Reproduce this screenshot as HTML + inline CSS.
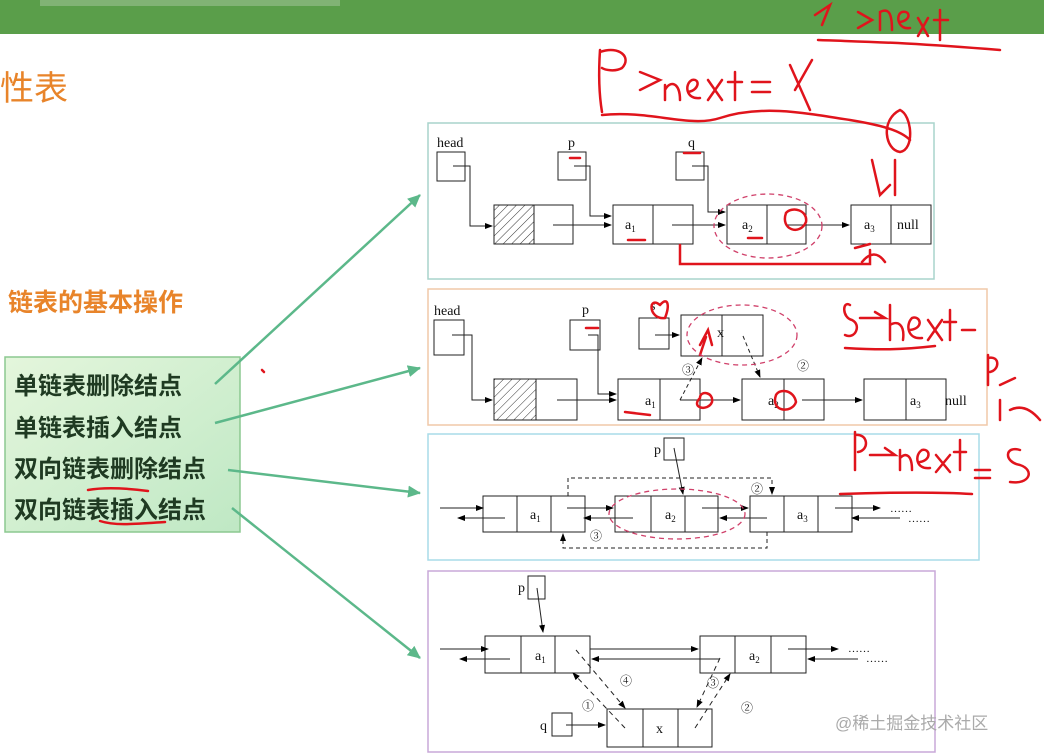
<!DOCTYPE html>
<html><head><meta charset="utf-8"><style>
body{margin:0;background:#fff;width:1044px;height:756px;overflow:hidden}
svg{display:block}
text{font-family:"Liberation Serif","Noto Serif CJK SC",serif}
.c{font-family:"Liberation Sans","Noto Sans CJK SC",sans-serif}
</style></head><body>
<svg width="1044" height="756" viewBox="0 0 1044 756" xmlns="http://www.w3.org/2000/svg">
<defs>
<marker id="a" markerWidth="8" markerHeight="8" refX="7" refY="4" orient="auto" markerUnits="userSpaceOnUse"><path d="M0,1 L8,4 L0,7z" fill="#000"/></marker>
<marker id="g" markerWidth="14" markerHeight="12" refX="12" refY="6" orient="auto" markerUnits="userSpaceOnUse"><path d="M0,0 L13,6 L0,12z" fill="#5cb88a"/></marker>
<pattern id="h" width="6" height="6" patternUnits="userSpaceOnUse" patternTransform="rotate(45)"><line x1="0" y1="0" x2="0" y2="6" stroke="#333" stroke-width="1"/></pattern>
<linearGradient id="lg" x1="0" y1="0" x2="1" y2="1"><stop offset="0" stop-color="#e4f6dc"/><stop offset="1" stop-color="#bfe8c4"/></linearGradient>
</defs>
<rect x="0" y="0" width="1044" height="34" fill="#5a9e4a"/>
<rect x="40" y="0" width="300" height="6" fill="#a8c8a0" opacity="0.5"/>
<text x="0" y="100" class="c" font-size="34" fill="#e8842a">性表</text>
<text x="8" y="311" class="c" font-size="25" fill="#e8842a" font-weight="bold">链表的基本操作</text>
<rect x="5" y="357" width="235" height="175" fill="url(#lg)" stroke="#8cc890" stroke-width="1.5"/>
<g class="c" font-size="24" font-weight="bold" fill="#1f3a22">
<text x="14" y="394" class="c">单链表删除结点</text>
<text x="14" y="436" class="c">单链表插入结点</text>
<text x="14" y="477" class="c">双向链表删除结点</text>
<text x="14" y="518" class="c">双向链表插入结点</text>
</g>
<g stroke="#5cb88a" stroke-width="2.5" fill="none" marker-end="url(#g)">
<line x1="215" y1="384" x2="420" y2="195"/>
<line x1="215" y1="423" x2="420" y2="368"/>
<line x1="228" y1="470" x2="420" y2="493"/>
<line x1="232" y1="508" x2="420" y2="658"/>
</g>
<rect x="428" y="123" width="506" height="156" fill="none" stroke="#a8d4cc" stroke-width="1.5"/>
<rect x="428" y="289" width="559" height="136" fill="none" stroke="#f0c8a8" stroke-width="1.5"/>
<rect x="428" y="434" width="551" height="126" fill="none" stroke="#a8dce8" stroke-width="1.5"/>
<rect x="428" y="571" width="507" height="181" fill="none" stroke="#c8a8d8" stroke-width="1.5"/>
<g stroke="#222" stroke-width="1" fill="none" font-size="13">
<rect x="437" y="152" width="28" height="29"/><rect x="558" y="152" width="28" height="28"/><rect x="676" y="152" width="28" height="28"/>
<rect x="494" y="205" width="40" height="39" fill="url(#h)"/><rect x="534" y="205" width="39" height="39"/>
<rect x="613" y="205" width="40" height="39"/><rect x="653" y="205" width="40" height="39"/>
<rect x="727" y="205" width="40" height="39"/><rect x="767" y="205" width="39" height="39"/>
<rect x="851" y="205" width="40" height="39"/><rect x="891" y="205" width="40" height="39"/>
<path d="M453,166 H470 V226 H492" marker-end="url(#a)"/>
<path d="M574,166 H590 V216 H611" marker-end="url(#a)"/>
<path d="M692,166 H708 V212 H725" marker-end="url(#a)"/>
<path d="M553,225 H611" marker-end="url(#a)"/><path d="M672,225 H725" marker-end="url(#a)"/><path d="M786,225 H849" marker-end="url(#a)"/>
<rect x="434" y="320" width="30" height="35"/><rect x="570" y="320" width="30" height="30"/><rect x="639" y="318" width="30" height="31"/>
<rect x="681" y="315" width="41" height="41"/><rect x="722" y="315" width="41" height="41"/>
<rect x="494" y="379" width="42" height="41" fill="url(#h)"/><rect x="536" y="379" width="41" height="41"/>
<rect x="618" y="379" width="42" height="41"/><rect x="660" y="379" width="40" height="41"/>
<rect x="742" y="379" width="42" height="41"/><rect x="784" y="379" width="40" height="41"/>
<rect x="864" y="379" width="42" height="41"/><rect x="906" y="379" width="40" height="41"/>
<path d="M452,335 H472 V400 H492" marker-end="url(#a)"/>
<path d="M588,335 H598 V394 H616" marker-end="url(#a)"/>
<path d="M655,335 H679" marker-end="url(#a)"/>
<path d="M557,400 H616" marker-end="url(#a)"/><path d="M680,400 H740" marker-end="url(#a)"/><path d="M802,400 H862" marker-end="url(#a)"/>
<path d="M680,400 L702,358" stroke-dasharray="4,3" marker-end="url(#a)"/>
<path d="M743,336 L760,377" stroke-dasharray="4,3" marker-end="url(#a)"/>
<rect x="664" y="438" width="20" height="22"/>
<rect x="483" y="496" width="34" height="36"/><rect x="517" y="496" width="34" height="36"/><rect x="551" y="496" width="34" height="36"/>
<rect x="615" y="496" width="36" height="36"/><rect x="651" y="496" width="34" height="36"/><rect x="685" y="496" width="33" height="36"/>
<rect x="750" y="496" width="34" height="36"/><rect x="784" y="496" width="34" height="36"/><rect x="818" y="496" width="34" height="36"/>
<path d="M674,448 L683,494" marker-end="url(#a)"/>
<path d="M440,508 H483" marker-end="url(#a)"/><path d="M505,518 H458" marker-end="url(#a)"/>
<path d="M567,508 H613" marker-end="url(#a)"/><path d="M633,518 H584" marker-end="url(#a)"/>
<path d="M702,508 H748" marker-end="url(#a)"/><path d="M767,518 H720" marker-end="url(#a)"/>
<path d="M835,508 H880" marker-end="url(#a)"/><path d="M900,518 H852" marker-end="url(#a)"/>
<path d="M568,496 V478 H772 V494" stroke-dasharray="4,3" marker-end="url(#a)"/>
<path d="M767,532 V548 H563 V534" stroke-dasharray="4,3" marker-end="url(#a)"/>
<rect x="528" y="576" width="17" height="23"/><rect x="552" y="713" width="20" height="23"/>
<rect x="485" y="636" width="36" height="37"/><rect x="521" y="636" width="34" height="37"/><rect x="555" y="636" width="35" height="37"/>
<rect x="700" y="636" width="35" height="37"/><rect x="735" y="636" width="36" height="37"/><rect x="771" y="636" width="35" height="37"/>
<rect x="607" y="709" width="36" height="38"/><rect x="643" y="709" width="35" height="38"/><rect x="678" y="709" width="34" height="38"/>
<path d="M537,588 L543,632" marker-end="url(#a)"/>
<path d="M566,725 H605" marker-end="url(#a)"/>
<path d="M440,649 H488" marker-end="url(#a)"/><path d="M510,659 H460" marker-end="url(#a)"/>
<path d="M590,649 H698" marker-end="url(#a)"/><path d="M720,659 H592" marker-end="url(#a)"/>
<path d="M788,649 H838" marker-end="url(#a)"/><path d="M858,659 H808" marker-end="url(#a)"/>
<path d="M576,650 L625,708" stroke-dasharray="5,4" marker-end="url(#a)"/>
<path d="M625,728 L573,673" stroke-dasharray="5,4" marker-end="url(#a)"/>
<path d="M720,658 L697,707" stroke-dasharray="5,4" marker-end="url(#a)"/>
<path d="M695,728 L730,674" stroke-dasharray="5,4" marker-end="url(#a)"/>
</g>
<g font-size="14" fill="#111">
<text x="437" y="147">head</text><text x="568" y="147">p</text><text x="688" y="147">q</text>
<text x="625" y="229">a<tspan font-size="9" dy="3">1</tspan></text><text x="742" y="229">a<tspan font-size="9" dy="3">2</tspan></text><text x="864" y="229">a<tspan font-size="9" dy="3">3</tspan></text><text x="897" y="229">null</text>
<text x="434" y="315">head</text><text x="582" y="314">p</text><text x="650" y="310">s</text><text x="717" y="337">x</text>
<text x="645" y="405">a<tspan font-size="9" dy="3">1</tspan></text><text x="768" y="405">a<tspan font-size="9" dy="3">2</tspan></text><text x="910" y="405">a<tspan font-size="9" dy="3">3</tspan></text><text x="945" y="405">null</text>
<text x="682" y="374" font-size="12">③</text><text x="797" y="370" font-size="12">②</text>
<text x="654" y="454">p</text>
<text x="530" y="519">a<tspan font-size="9" dy="3">1</tspan></text><text x="665" y="519">a<tspan font-size="9" dy="3">2</tspan></text><text x="797" y="519">a<tspan font-size="9" dy="3">3</tspan></text>
<text x="751" y="493" font-size="12">②</text><text x="590" y="540" font-size="12">③</text>
<text x="890" y="512" font-size="11">……</text><text x="908" y="522" font-size="11">……</text>
<text x="518" y="592">p</text><text x="540" y="730">q</text>
<text x="535" y="660">a<tspan font-size="9" dy="3">1</tspan></text><text x="749" y="660">a<tspan font-size="9" dy="3">2</tspan></text><text x="656" y="733">x</text>
<text x="620" y="685" font-size="12">④</text><text x="582" y="710" font-size="12">①</text><text x="707" y="687" font-size="12">③</text><text x="741" y="712" font-size="12">②</text>
<text x="848" y="652" font-size="11">……</text><text x="866" y="662" font-size="11">……</text>
</g>
<g stroke="#e0141c" stroke-width="2.5" fill="none" stroke-linecap="round">
<path d="M600,50 C598,80 600,100 602,112 M600,52 C620,45 632,58 622,68 C615,72 605,70 602,68"/>
<path d="M640,72 L660,80 L640,90 M665,85 V100 M665,90 C670,80 680,82 680,100 M688,92 C700,90 700,78 692,80 C684,84 686,100 700,98 M708,80 L722,100 M722,80 L708,100 M735,72 V100 M728,82 H742 M752,82 H770 M752,92 H770 M790,65 L810,110 M812,60 L795,90"/>
<path d="M602,115 C650,110 690,128 720,118 C760,105 800,112 850,120 C880,125 900,130 910,140"/>
<path d="M815,15 L830,5 L822,25 M858,12 L872,20 L858,28 M880,30 V12 C888,8 892,12 892,30 M900,22 C912,20 910,10 902,12 C895,15 898,30 910,28 M918,18 L928,36 M928,18 L918,36 M940,10 V40 M934,20 H948"/>
<path d="M818,40 C870,42 900,42 1000,50"/>
<path d="M900,110 C880,120 885,150 900,152 C915,150 912,115 900,110 M872,160 L880,195 L890,185 M895,160 V195"/>
<path d="M680,245 V264 H870 V250 M862,262 C870,252 878,252 885,262"/>
<path d="M628,240 H645 M748,238 H762 M786,213 C780,230 800,236 806,222 C808,210 792,206 786,213 M570,158 H580 M684,153 H700 M855,248 L870,244"/>
<path d="M660,305 C648,295 648,320 665,318 C670,305 668,296 660,305"/>
<path d="M586,328 H598 M700,345 L708,330 L712,345 M700,355 L706,337 M700,398 C690,408 708,412 712,402 C714,392 700,390 700,398 M776,395 C770,412 792,414 796,402 C794,390 780,388 776,395 M625,412 L650,415"/>
<path d="M850,305 C842,300 842,318 852,320 C862,325 855,340 845,335 M860,318 H885 L875,312 M890,305 V340 M890,325 C898,320 905,325 903,340 M910,330 C925,328 920,315 912,318 C905,325 908,340 922,338 M928,320 L942,340 M942,320 L928,340 M950,310 V340 M944,322 H956 M962,330 H975"/>
<path d="M845,348 C880,350 900,350 935,346"/>
<path d="M988,355 V385 M988,358 C1000,355 1000,370 990,372 M1000,385 L1015,378 M1000,400 V420 M1010,410 C1020,405 1030,408 1040,420"/>
<path d="M855,432 V470 M855,435 C868,433 870,450 858,452 M870,455 H895 L885,448 M900,450 V470 M900,458 C906,452 912,455 912,470 M920,462 C932,460 930,448 922,450 C914,455 916,470 930,468 M936,455 L950,472 M950,455 L936,472 M960,440 V470 M954,452 H966 M975,470 H990 M975,478 H990 M1020,450 C1005,445 1003,462 1020,465 C1035,470 1030,485 1010,482"/>
<path d="M840,494 C900,492 940,492 972,494"/>
<path d="M88,490 C105,487 125,488 148,491 M100,521 C115,526 135,524 165,522"/>
<path d="M262,370 L264,372"/>
</g>
<g fill="none" stroke="#d0406a" stroke-width="1.3" stroke-dasharray="5,4">
<ellipse cx="768" cy="226" rx="54" ry="32"/>
<ellipse cx="742" cy="335" rx="55" ry="30"/>
<ellipse cx="677" cy="514" rx="68" ry="25"/>
</g>
<text x="835" y="729" class="c" font-size="17" fill="#aaaaaa">@稀土掘金技术社区</text>
</svg>
</body></html>
